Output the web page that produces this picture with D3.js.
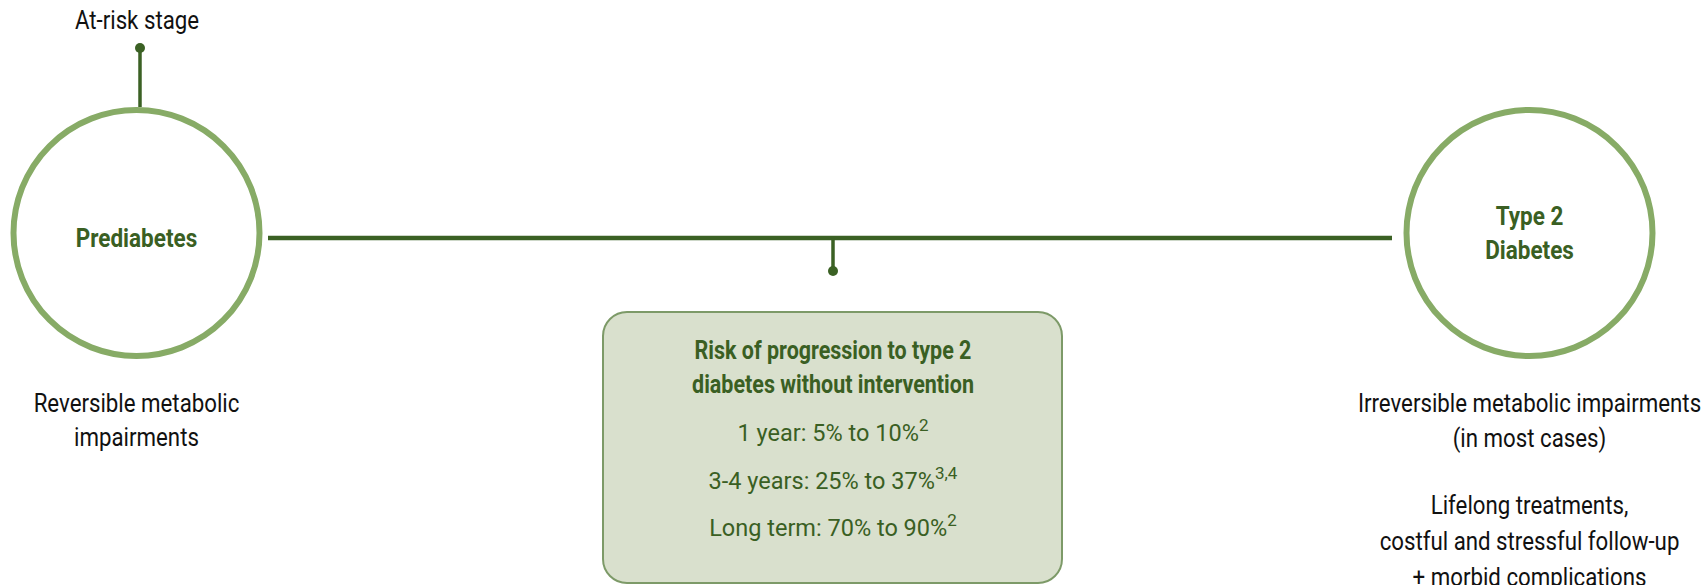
<!DOCTYPE html>
<html>
<head>
<meta charset="utf-8">
<script src="https://cdn.jsdelivr.net/npm/d3@7"></script>
<style>
  html, body { margin: 0; padding: 0; background: #ffffff; }
  svg { display: block; }
  text { font-family: Roboto, "Noto Sans", sans-serif; }
</style>
</head>
<body>
<svg id="chart" width="1705" height="585"></svg>
<script>
// ---- data ----
const stages = ["Prediabetes", "Type 2\nDiabetes"];
const topLabel = "At-risk stage";
const leftNotes = ["Reversible metabolic", "impairments"];
const rightNotes1 = ["Irreversible metabolic impairments", "(in most cases)"];
const rightNotes2 = ["Lifelong treatments,", "costful and stressful follow-up", "+ morbid complications"];
const riskTitle = ["Risk of progression to type 2", "diabetes without intervention"];
const riskPeriods = ["1 year", "3-4 years", "Long term"];
const riskRanges = ["5% to 10%", "25% to 37%", "70% to 90%"];
const riskRefs = ["2", "3,4", "2"];

// ---- styles ----
const circleColor = "#87ab66";
const darkGreen = "#3b6124";
const textGreen = "#3a5f23";
const boxFill = "#d9e0cd";
const boxStroke = "#7d9a68";
const condense = 0.89;

const svg = d3.select("#chart");
const x = d3.scaleLinear().domain([0, 1]).range([136.5, 1529.5]);
const cy = 233;
const R = 123;

// connecting line
svg.append("line")
  .attr("x1", 268).attr("x2", 1392)
  .attr("y1", 238).attr("y2", 238)
  .attr("stroke", darkGreen).attr("stroke-width", 4.5);

// stem down to box
const midX = 833;
svg.append("line").attr("x1", midX).attr("x2", midX).attr("y1", 238).attr("y2", 270)
  .attr("stroke", darkGreen).attr("stroke-width", 3.5);
svg.append("circle").attr("cx", midX).attr("cy", 271).attr("r", 5).attr("fill", darkGreen);

// top stem
svg.append("line").attr("x1", 140).attr("x2", 140).attr("y1", 48).attr("y2", 107)
  .attr("stroke", darkGreen).attr("stroke-width", 3.5);
svg.append("circle").attr("cx", 140).attr("cy", 48).attr("r", 5).attr("fill", darkGreen);

// circles
svg.selectAll("circle.stage").data(stages).join("circle")
  .attr("class", "stage")
  .attr("cx", (d, i) => x(i)).attr("cy", cy).attr("r", R)
  .attr("fill", "#ffffff").attr("stroke", circleColor).attr("stroke-width", 6);

function condText(g, str, cx, y, opts) {
  const t = g.append("text")
    .attr("x", 0).attr("y", 0)
    .attr("text-anchor", "middle")
    .attr("font-size", opts.size)
    .attr("font-weight", opts.weight || 400)
    .attr("fill", opts.fill || "#111111")
    .attr("transform", `translate(${cx},${y}) scale(${opts.sx || condense},1)`)
    .text(str);
  return t;
}

// stage labels
stages.forEach((s, i) => {
  const lines = s.split("\n");
  const baseY = lines.length === 1 ? 247 : 225;
  lines.forEach((ln, j) => {
    condText(svg, ln, x(i), baseY + j * 34, { size: 25, weight: 700, fill: textGreen, sx: 0.9 });
  });
});

// top label
condText(svg, topLabel, 137, 29, { size: 25 });

// left notes
leftNotes.forEach((t, j) => condText(svg, t, x(0), 412 + j * 33.5, { size: 25 }));
// right notes
rightNotes1.forEach((t, j) => condText(svg, t, x(1), 412 + j * 35, { size: 25 }));
rightNotes2.forEach((t, j) => condText(svg, t, x(1), 514 + j * 36, { size: 25 }));

// risk box
svg.append("rect")
  .attr("x", 603).attr("y", 312).attr("width", 459).attr("height", 271)
  .attr("rx", 24).attr("ry", 24)
  .attr("fill", boxFill).attr("stroke", boxStroke).attr("stroke-width", 2);

riskTitle.forEach((t, j) => condText(svg, t, midX, 359 + j * 34, { size: 25, weight: 700, fill: textGreen, sx: 0.86 }));

riskPeriods.forEach((p, j) => {
  const t = svg.append("text")
    .attr("x", midX).attr("y", 441 + j * 47.5)
    .attr("text-anchor", "middle")
    .attr("font-size", 23.5)
    .attr("fill", textGreen);
  t.append("tspan").text(`${p}: ${riskRanges[j]}`);
  t.append("tspan").attr("font-size", 17).attr("dy", -10).text(riskRefs[j]);
});
</script>
</body>
</html>
